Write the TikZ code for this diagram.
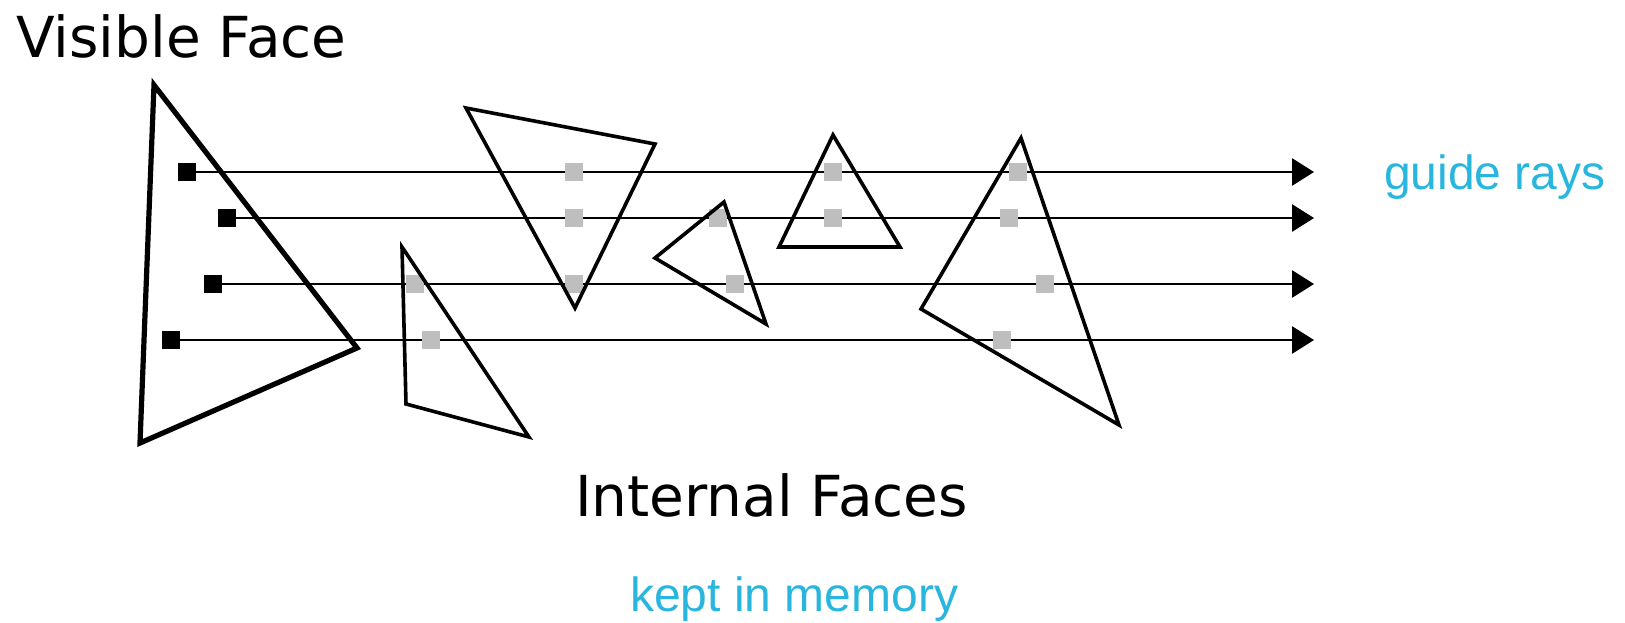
\documentclass[tikz,border=0pt]{standalone}
\usepackage{fontspec}
\setmainfont{DejaVu Sans}
\newfontfamily\notefont{Liberation Sans}
\usetikzlibrary{arrows.meta}

\definecolor{notecyan}{RGB}{41,182,222}
\definecolor{hitgray}{RGB}{190,190,190}

\tikzset{
  face/.style={draw,line width=3.6pt,line join=miter},
  visface/.style={face,line width=5.2pt},
  ray/.style={line width=2.9pt,-{Triangle[length=22pt,width=27pt]}},
  origin/.style={fill,inner sep=0pt,minimum size=18pt},
  hit/.style={fill=hitgray,inner sep=0pt,minimum size=17.5pt},
  facetext/.style={inner sep=0pt,anchor=base west,font=\fontsize{56.5}{68}\selectfont},
  raytext/.style={inner sep=0pt,anchor=base west,text=notecyan,font={\notefont\fontsize{48}{58}\selectfont}}
}

\begin{document}
\begin{tikzpicture}[x=1pt,y=-1pt]
\useasboundingbox (0,0) rectangle (1625,622);

% ray origins on the visible face
\node[origin] (o1) at (187,172) {};
\node[origin] (o2) at (227,218) {};
\node[origin] (o3) at (213,284) {};
\node[origin] (o4) at (171,340) {};
\coordinate (t1) at (1314,172);
\coordinate (t2) at (1314,218);
\coordinate (t3) at (1314,284);
\coordinate (t4) at (1314,340);

\draw[ray] (o1) -- (t1);
\draw[ray] (o2) -- (t2);
\draw[ray] (o3) -- (t3);
\draw[ray] (o4) -- (t4);

% hits on the internal faces
\node[hit] (h11) at (574,172) {};
\node[hit] (h12) at (833,172) {};
\node[hit] (h13) at (1018,172) {};
\node[hit] (h21) at (574,218) {};
\node[hit] (h22) at (718,218) {};
\node[hit] (h23) at (833,218) {};
\node[hit] (h24) at (1009,218) {};
\node[hit] (h31) at (415,284) {};
\node[hit] (h32) at (574,284) {};
\node[hit] (h33) at (735,284) {};
\node[hit] (h34) at (1045,284) {};
\node[hit] (h41) at (431,340) {};
\node[hit] (h42) at (1002,340) {};

% faces
\draw[visface] (154,85) -- (357,348) -- (140,443) -- cycle;
\draw[face] (402,247) -- (406,404) -- (529,437) -- cycle;
\draw[face] (466,108) -- (655,144) -- (575,308) -- cycle;
\draw[face] (724,202) -- (655,258) -- (766,324) -- cycle;
\draw[face] (833,135) -- (779,247) -- (900,247) -- cycle;
\draw[face] (1021,138) -- (921,309) -- (1119,425) -- cycle;

\node[facetext] (visible) at (16,57) {Visible Face};
\node[facetext] (internal) at (575,516) {Internal Faces};
\node[raytext] (rays) at (1384,189) {guide rays};
\node[raytext] (memory) at (630,611) {kept in memory};
\end{tikzpicture}
\end{document}
